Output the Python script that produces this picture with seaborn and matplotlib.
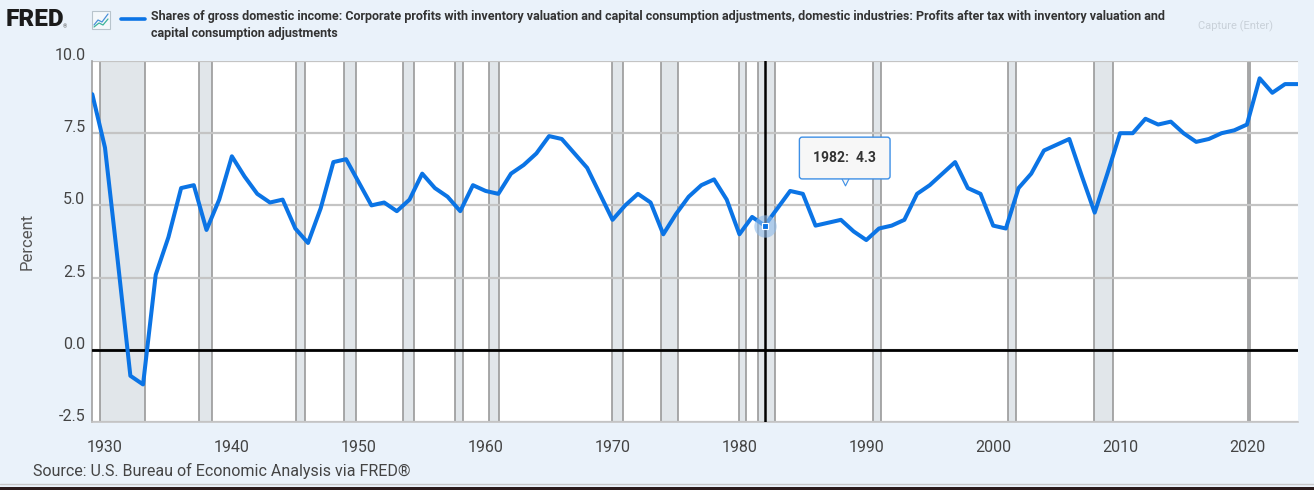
import pandas as pd
import matplotlib.pyplot as plt
import seaborn as sns
from matplotlib.lines import Line2D
from matplotlib.patches import Rectangle
from matplotlib.transforms import ScaledTranslation

# Datos: porcentaje anual (1929-2024)
years = list(range(1929, 2025))
values = [
    8.85, 7.0, 3.1, -0.9, -1.2, 2.6, 3.9, 5.6, 5.7, 4.15,   # 1929-1938
    5.2, 6.7, 6.0, 5.4, 5.1, 5.2, 4.2, 3.7, 4.9, 6.5,       # 1939-1948
    6.6, 5.8, 5.0, 5.1, 4.8, 5.2, 6.1, 5.6, 5.3, 4.8,       # 1949-1958
    5.7, 5.5, 5.4, 6.1, 6.4, 6.8, 7.4, 7.3, 6.8, 6.3,       # 1959-1968
    5.4, 4.5, 5.0, 5.4, 5.1, 4.0, 4.7, 5.3, 5.7, 5.9,       # 1969-1978
    5.2, 4.0, 4.6, 4.3, 4.9, 5.5, 5.4, 4.3, 4.4, 4.5,       # 1979-1988
    4.1, 3.8, 4.2, 4.3, 4.5, 5.4, 5.7, 6.1, 6.5, 5.6,       # 1989-1998
    5.4, 4.3, 4.2, 5.6, 6.1, 6.9, 7.1, 7.3, 6.0, 4.75,      # 1999-2008
    6.1, 7.5, 7.5, 8.0, 7.8, 7.9, 7.5, 7.2, 7.3, 7.5,       # 2009-2018
    7.6, 7.8, 9.4, 8.9, 9.2, 9.2,                           # 2019-2024
]

# Recesiones (NBER), en años decimales
rec_start = [1929.58, 1937.37, 1945.08, 1948.87, 1953.5, 1957.58, 1960.25, 1969.92,
             1973.83, 1980.0, 1981.5, 1990.5, 2001.17, 2007.92, 2020.08]
rec_end = [1933.17, 1938.42, 1945.75, 1949.75, 1954.33, 1958.25, 1961.08, 1970.83,
           1975.17, 1980.5, 1982.83, 1991.17, 2001.83, 2009.42, 2020.25]

x_ticks = [1930, 1940, 1950, 1960, 1970, 1980, 1990, 2000, 2010, 2020]
y_ticks = [-2.5, 0.0, 2.5, 5.0, 7.5, 10.0]

hover_year = 1982
hover_value = 4.3

title = ("Shares of gross domestic income: Corporate profits with inventory valuation and "
         "capital consumption adjustments, domestic industries: Profits after tax with inventory valuation and\n"
         "capital consumption adjustments")

df = pd.DataFrame({'year': years, 'value': values})

sns.set_style("white")
plt.rcParams['font.family'] = ['Roboto', 'DejaVu Sans']

bg = '#eaf2fa'
line_color = '#0b74e5'

fig = plt.figure(figsize=(13.14, 4.90), dpi=100, facecolor=bg)
ax = fig.add_axes([92.3 / 1314, 1 - 422 / 490, (1297.7 - 92.3) / 1314, (422 - 61) / 490])
ax.set_facecolor('white')

# Sombreado de recesiones
for s, e in zip(rec_start, rec_end):
    ax.axvspan(s, e, facecolor='#e1e6ea', edgecolor='#9a9a9a', linewidth=1.2, zorder=1)

# Cuadrícula horizontal
for yv in y_ticks:
    ax.axhline(yv, color='#c4c4c4', linewidth=1.6, zorder=2)
ax.axhline(0, color='black', linewidth=2.0, zorder=3)

# Línea principal
sns.lineplot(data=df, x='year', y='value', color=line_color, linewidth=2.9, ax=ax, zorder=4)

# Cursor y tooltip
ax.axvline(hover_year, color='black', linewidth=1.8, zorder=5)
ax.scatter([hover_year], [hover_value], s=260, color='#8fbbea', alpha=0.6, zorder=6, linewidths=0)
ax.scatter([hover_year], [hover_value], s=22, marker='s', color=line_color,
           edgecolors='white', linewidths=0.8, zorder=7)
ax.text(hover_year + 6.3, hover_value + 2.34, f"{hover_year}:  {hover_value}", fontsize=10,
        fontweight='bold', color='#333333', ha='center', va='center', zorder=9,
        bbox=dict(boxstyle='round,pad=1.0,rounding_size=0.2', facecolor='#f7f7f7',
                  edgecolor='#3d8fe6', linewidth=1.0))
ax.scatter([hover_year + 6.3], [hover_value + 1.56], s=40, marker='v', color='#f7f7f7',
           edgecolors='#3d8fe6', linewidths=0.8, zorder=8)

ax.set_xlim(1929, 2024)
ax.set_ylim(-2.5, 10.0)
ax.set_xticks(x_ticks)
ax.set_yticks(y_ticks)
ax.set_yticklabels([f"{v:.1f}" for v in y_ticks])
ax.set_xlabel('')
ax.set_ylabel('Percent', fontsize=12, color='#555555', labelpad=14)
ax.tick_params(axis='x', length=8, width=1, color='#ccd6eb', labelsize=11.5,
               labelcolor='#444444', pad=5)
ax.tick_params(axis='y', length=0, labelsize=11.5, labelcolor='#444444', pad=5)
for lab in ax.get_yticklabels():
    lab.set_transform(lab.get_transform() + ScaledTranslation(0, 0.07, fig.dpi_scale_trans))

for side in ['top', 'right']:
    ax.spines[side].set_visible(False)
ax.spines['left'].set_color('#a0a0a0')
ax.spines['left'].set_linewidth(1.2)
ax.spines['bottom'].set_color('#c4c4c4')
ax.spines['bottom'].set_linewidth(1.2)

# Encabezado: logo, leyenda y título
fig.text(6 / 1314, 1 - 19 / 490, 'FRED', fontsize=17.5, fontweight='black', color='#1b1b1b',
         va='center', ha='left')
fig.text(63 / 1314, 1 - 27 / 490, '®', fontsize=4, color='#555555', va='center', ha='left')
fig.add_artist(Rectangle((92 / 1314, 1 - 29 / 490), 18 / 1314, 18 / 490, transform=fig.transFigure,
                         facecolor='#f4f8fb', edgecolor='#b8c4cc', linewidth=0.8))
fig.add_artist(Line2D([94 / 1314, 98 / 1314, 102 / 1314, 108 / 1314],
                      [1 - 25 / 490, 1 - 20 / 490, 1 - 22 / 490, 1 - 14 / 490],
                      transform=fig.transFigure, color='#4a90d9', linewidth=0.9))
fig.add_artist(Line2D([94 / 1314, 99 / 1314, 103 / 1314, 108 / 1314],
                      [1 - 27 / 490, 1 - 23 / 490, 1 - 25 / 490, 1 - 19 / 490],
                      transform=fig.transFigure, color='#3cb39a', linewidth=0.9))
fig.add_artist(Line2D([121 / 1314, 145 / 1314], [1 - 19 / 490, 1 - 19 / 490],
                      transform=fig.transFigure, color=line_color, linewidth=2.6))
fig.text(151 / 1314, 1 - 10 / 490, title, fontsize=9.0, fontweight='bold', color='#333333',
         va='top', ha='left', linespacing=1.45)
fig.text(1236 / 1314, 1 - 26 / 490, 'Capture (Enter)', fontsize=8, color='#c9d1d9',
         va='center', ha='center')

# Fuente
fig.text(33 / 1314, 1 - 471 / 490, 'Source: U.S. Bureau of Economic Analysis via FRED®',
         fontsize=11.5, color='#444444', va='center', ha='left')

# Borde inferior
fig.add_artist(Line2D([0, 1], [1 - 483.5 / 490, 1 - 483.5 / 490], transform=fig.transFigure,
                      color='#c8c8c8', linewidth=1))
fig.add_artist(Rectangle((0, 0), 1, 3.5 / 490, transform=fig.transFigure,
                         facecolor='#2b1b1b', edgecolor='none'))

fig.savefig('out.png', dpi=100, facecolor=bg)
